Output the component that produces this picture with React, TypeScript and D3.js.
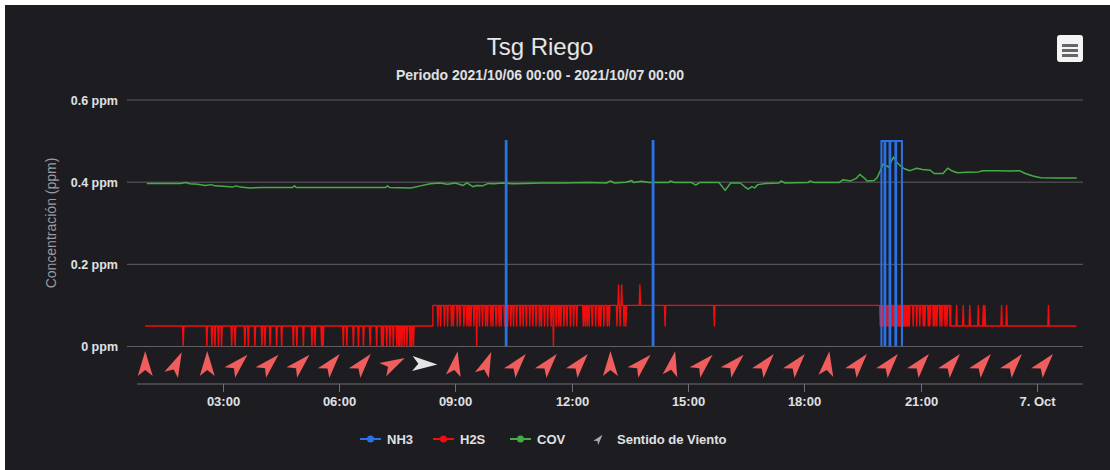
import React, { useEffect, useRef } from 'react';
import * as d3 from 'd3';

const WIDTH = 1110;
const HEIGHT = 470;

// all times are hours since 2021/10/06 00:00
const yTicks = [0, 0.2, 0.4, 0.6];
const xTickHours = [3, 6, 9, 12, 15, 18, 21, 24];

const covPoints: [number, number][] = [
  [1.04, 0.397], [1.5, 0.397], [1.9, 0.397], [2.05, 0.399], [2.15, 0.396], [2.35, 0.395],
  [2.55, 0.392], [2.7, 0.394], [2.8, 0.391], [3.0, 0.39], [3.25, 0.388], [3.35, 0.391],
  [3.45, 0.388], [3.7, 0.386], [4.0, 0.387], [4.4, 0.387], [4.8, 0.387], [4.85, 0.391],
  [4.9, 0.387], [5.5, 0.387], [6.1, 0.387], [6.7, 0.387], [7.2, 0.387], [7.25, 0.391],
  [7.3, 0.387], [7.85, 0.386], [8.1, 0.391], [8.35, 0.396], [8.6, 0.398], [8.8, 0.395],
  [9.0, 0.398], [9.2, 0.392], [9.3, 0.398], [9.45, 0.389], [9.55, 0.392], [9.7, 0.391],
  [9.85, 0.397], [10.0, 0.396], [10.2, 0.398], [10.5, 0.396], [10.8, 0.397], [11.2, 0.398],
  [11.8, 0.398], [12.4, 0.399], [12.9, 0.398], [13.0, 0.403], [13.1, 0.398], [13.4, 0.4],
  [13.55, 0.404], [13.6, 0.399], [13.8, 0.402], [14.0, 0.399], [14.5, 0.399], [14.55, 0.403],
  [14.65, 0.399], [15.1, 0.399], [15.2, 0.393], [15.3, 0.399], [15.8, 0.399], [15.96, 0.38],
  [16.1, 0.398], [16.35, 0.398], [16.45, 0.39], [16.55, 0.383], [16.65, 0.389], [16.72, 0.386],
  [16.8, 0.394], [17.0, 0.397], [17.35, 0.398], [17.4, 0.403], [17.5, 0.398], [18.1, 0.399],
  [18.15, 0.403], [18.25, 0.399], [18.9, 0.399], [19.0, 0.406], [19.2, 0.403], [19.35, 0.41],
  [19.43, 0.419], [19.55, 0.41], [19.62, 0.403], [19.8, 0.404], [19.88, 0.411], [19.95, 0.425],
  [20.03, 0.444], [20.12, 0.44], [20.18, 0.436], [20.25, 0.452], [20.3, 0.461], [20.39, 0.448],
  [20.5, 0.438], [20.6, 0.432], [20.73, 0.428], [20.9, 0.434], [21.05, 0.431], [21.25, 0.429],
  [21.35, 0.421], [21.58, 0.421], [21.7, 0.434], [21.82, 0.427], [21.95, 0.423], [22.2, 0.424],
  [22.5, 0.425], [22.6, 0.428], [23.0, 0.428], [23.3, 0.427], [23.55, 0.428], [23.7, 0.421],
  [23.9, 0.415], [24.1, 0.411], [24.5, 0.41], [25.03, 0.41],
];

// H2S: base level segments [start, level], plus short excursions
const h2sLevels: [number, number][] = [[1.0, 0.05], [8.42, 0.1], [21.78, 0.05]];
const h2sEnd = 25.02;
// 0.05 -> 0
const h2sDipsEarly = [
  1.98, 2.59, 2.72, 2.8, 2.89, 2.97, 3.23, 3.32, 3.57, 3.66, 3.83, 4.01, 4.09, 4.22, 4.39,
  4.52, 4.82, 4.91, 5.08, 5.3, 5.38, 5.55, 5.59, 6.11, 6.2, 6.37, 6.5, 6.63, 6.8, 6.97,
  7.1, 7.14, 7.23, 7.31, 7.4, 7.49, 7.54, 7.57, 7.62, 7.68, 7.75, 7.83, 7.87, 7.92,
];
// 0.1 -> 0.05
const h2sDense1 = [
  8.55, 8.62, 8.72, 8.8, 8.9, 8.95, 9.05, 9.12, 9.22, 9.3, 9.35, 9.4, 9.48, 9.62, 9.7,
  9.78, 9.83, 9.92, 9.97, 10.05, 10.13, 10.18, 10.27, 10.35, 10.43, 10.5, 10.58, 10.67,
  10.75, 10.83, 10.92, 11.0, 11.08, 11.17, 11.22, 11.3, 11.38, 11.47, 11.6, 11.67, 11.72,
  11.8, 11.88, 11.97, 12.05, 12.13, 12.3, 12.35, 12.4, 12.45, 12.53, 12.62, 12.7, 12.75,
  12.83, 12.92, 12.97, 13.17, 13.25, 13.35, 13.4,
];
// 0.1 -> 0
const h2sToZero = [9.55, 11.53];
// 0.1 -> 0.15
const h2sHigh = [13.21, 13.29, 13.76];
// 0.1 -> 0.05
const h2sMid = [14.41, 15.68];
const h2sDense2 = [
  19.96, 19.99, 20.02, 20.05, 20.08, 20.11, 20.13, 20.16, 20.19, 20.22, 20.25, 20.28, 20.3,
  20.33, 20.36, 20.39, 20.42, 20.45, 20.47, 20.5, 20.53, 20.56, 20.59, 20.62, 20.65, 20.68,
  20.71, 20.81, 20.9, 20.98, 21.07, 21.11, 21.2, 21.24, 21.33, 21.37, 21.42, 21.5, 21.55,
  21.63, 21.68, 21.76,
];
// 0.05 -> 0.1
const h2sLate = [21.93, 22.1, 22.27, 22.49, 22.62, 22.66, 23.09, 23.22, 24.3];

// NH3 at 0.5 ppm during these intervals, 0 otherwise
const nh3Pulses: [number, number][] = [
  [10.3, 10.32], [14.09, 14.11], [19.99, 20.07], [20.09, 20.2], [20.22, 20.35], [20.37, 20.52],
];

const windHours = [
  1.0, 1.8, 2.6, 3.4, 4.2, 5.0, 5.8, 6.6, 7.4, 8.2, 9.0, 9.8, 10.6, 11.4, 12.2,
  13.0, 13.8, 14.6, 15.4, 16.2, 17.0, 17.8, 18.6, 19.4, 20.2, 21.0, 21.8, 22.6, 23.4, 24.2,
];
const windDirs = [
  0, 25, 0, 45, 45, 45, 40, 40, 62, 92, 10, 22, 40, 40, 40,
  0, 45, 12, 45, 45, 40, 40, 8, 40, 40, 40, 40, 40, 40, 40,
];
const windCalm = [9];

const COLORS = { nh3: '#2a72e6', h2s: '#f20d0d', cov: '#45ad45', wind: '#ef5d5d' };

const start = new Date(2021, 9, 6, 0, 0, 0).getTime();
const at = (h: number) => new Date(start + h * 3600e3);

const ARROW = 'M0,-13 L7.5,12 L0,6 L-7.5,12 Z';

export default function App() {
  const svgRef = useRef<SVGSVGElement>(null);

  useEffect(() => {
    document.body.style.margin = '0';
    const svg = d3.select(svgRef.current);
    svg.selectAll('*').remove();

    const left = 127, right = 1083, top = 100, bottom = 346.5;
    const x = d3.scaleTime().domain([at(0.53), at(25.19)]).range([left, right]);
    const y = d3.scaleLinear().domain([0, 0.6]).range([bottom, top]);
    const font = '"Liberation Sans", Arial, sans-serif';

    svg.append('rect').attr('width', WIDTH).attr('height', HEIGHT).attr('fill', '#fff');
    svg.append('rect').attr('x', 5).attr('y', 5).attr('width', WIDTH - 5).attr('height', HEIGHT - 5).attr('fill', '#1d1d21');

    // titles
    svg.append('text').attr('x', 540).attr('y', 55).attr('text-anchor', 'middle')
      .style('font-family', font).style('font-size', '24px').attr('fill', '#e6e6e8').text('Tsg Riego');
    svg.append('text').attr('x', 540).attr('y', 80).attr('text-anchor', 'middle')
      .style('font-family', font).style('font-size', '14px').style('font-weight', 'bold')
      .attr('fill', '#e0e0e3').text('Periodo 2021/10/06 00:00 - 2021/10/07 00:00');

    // menu button
    svg.append('rect').attr('x', 1057).attr('y', 35).attr('width', 26).attr('height', 27).attr('rx', 3).attr('fill', '#f4f4f4');
    [44, 49, 54].forEach((yy) => {
      svg.append('rect').attr('x', 1062).attr('y', yy).attr('width', 16).attr('height', 3).attr('fill', '#666');
    });

    // grid + y labels
    const grid = svg.append('g');
    yTicks.forEach((v) => {
      grid.append('line').attr('x1', left).attr('x2', right).attr('y1', y(v)).attr('y2', y(v))
        .attr('stroke', '#5e5e63').attr('stroke-width', 1);
      grid.append('text').attr('x', 118).attr('y', y(v) + 4.5).attr('text-anchor', 'end')
        .style('font-family', font).style('font-size', '12.5px').style('font-weight', 'bold')
        .attr('fill', '#e0e0e3').text(`${v} ppm`);
    });
    svg.append('text')
      .attr('transform', `translate(56,223) rotate(-90)`)
      .attr('text-anchor', 'middle')
      .style('font-family', font).style('font-size', '14px')
      .attr('fill', '#9c9ca0').text('Concentración (ppm)');

    // clip
    svg.append('clipPath').attr('id', 'plot-clip').append('rect')
      .attr('x', left).attr('y', top - 5).attr('width', right - left).attr('height', bottom - top + 5);
    const plot = svg.append('g').attr('clip-path', 'url(#plot-clip)');

    const line = d3.line<[number, number]>().x((d) => x(at(d[0]))).y((d) => y(d[1]));

    // H2S
    const step = 1 / 60;
    const excursions: [number, number][] = [
      ...h2sDipsEarly.map((h) => [h, 0] as [number, number]),
      ...h2sDense1.map((h) => [h, 0.05] as [number, number]),
      ...h2sToZero.map((h) => [h, 0] as [number, number]),
      ...h2sHigh.map((h) => [h, 0.15] as [number, number]),
      ...h2sMid.map((h) => [h, 0.05] as [number, number]),
      ...h2sDense2.map((h) => [h, 0.05] as [number, number]),
      ...h2sLate.map((h) => [h, 0.1] as [number, number]),
    ];
    const baseAt = (h: number) => {
      let b = h2sLevels[0][1];
      h2sLevels.forEach(([s, v]) => { if (h >= s) b = v; });
      return b;
    };
    const h2sPts: [number, number][] = [];
    h2sLevels.forEach(([s, v], i) => {
      if (i > 0) h2sPts.push([s, h2sLevels[i - 1][1]]);
      h2sPts.push([s, v]);
    });
    excursions.forEach(([h, v]) => {
      const b = baseAt(h);
      h2sPts.push([h - step, b], [h, v], [h + step, b]);
    });
    h2sPts.push([h2sEnd, baseAt(h2sEnd)]);
    h2sPts.sort((a, b) => a[0] - b[0]);

    plot.append('path').attr('d', line(h2sPts)).attr('fill', 'none')
      .attr('stroke', COLORS.h2s).attr('stroke-width', 1.4).attr('stroke-linejoin', 'round');

    // COV
    plot.append('path').attr('d', line(covPoints)).attr('fill', 'none')
      .attr('stroke', COLORS.cov).attr('stroke-width', 1.5).attr('stroke-linejoin', 'round');

    // NH3
    nh3Pulses.forEach(([s, e]) => {
      const pts: [number, number][] = [[s, 0], [s, 0.5], [e, 0.5], [e, 0]];
      plot.append('path').attr('d', line(pts)).attr('fill', 'none')
        .attr('stroke', COLORS.nh3).attr('stroke-width', 2);
    });

    // wind arrows
    const wind = svg.append('g');
    windHours.forEach((h, i) => {
      wind.append('path').attr('d', ARROW)
        .attr('transform', `translate(${x(at(h))},364) rotate(${windDirs[i]})`)
        .attr('fill', windCalm.includes(i) ? '#e4e4e6' : COLORS.wind);
    });

    // x axis
    const axisY = 384;
    svg.append('line').attr('x1', 137).attr('x2', right).attr('y1', axisY).attr('y2', axisY)
      .attr('stroke', '#6e6e73').attr('stroke-width', 1);
    const fmt = (d: Date) => (d.getHours() === 0 ? d3.timeFormat('%-d. %b')(d) : d3.timeFormat('%H:%M')(d));
    xTickHours.forEach((h) => {
      const xx = Math.round(x(at(h))) + 0.5;
      svg.append('line').attr('x1', xx).attr('x2', xx).attr('y1', axisY).attr('y2', axisY + 8)
        .attr('stroke', '#6e6e73');
      svg.append('text').attr('x', xx).attr('y', 406).attr('text-anchor', 'middle')
        .style('font-family', font).style('font-size', '13px').style('font-weight', 'bold')
        .attr('fill', '#e0e0e3').text(fmt(at(h)));
    });

    // legend
    const legend = svg.append('g').style('font-family', font).style('font-size', '13px').style('font-weight', 'bold');
    const items = [
      { name: 'NH3', color: COLORS.nh3, x: 360 },
      { name: 'H2S', color: COLORS.h2s, x: 433 },
      { name: 'COV', color: COLORS.cov, x: 510 },
    ];
    items.forEach((it) => {
      legend.append('line').attr('x1', it.x).attr('x2', it.x + 21).attr('y1', 439).attr('y2', 439)
        .attr('stroke', it.color).attr('stroke-width', 2);
      legend.append('circle').attr('cx', it.x + 10.5).attr('cy', 439).attr('r', 3.5).attr('fill', it.color);
      legend.append('text').attr('x', it.x + 27).attr('y', 443.5).attr('fill', '#e0e0e3').text(it.name);
    });
    legend.append('path').attr('d', ARROW)
      .attr('transform', 'translate(599,439) rotate(40) scale(0.42)').attr('fill', '#a8a8ac');
    legend.append('text').attr('x', 617).attr('y', 443.5).attr('fill', '#e0e0e3').text('Sentido de Viento');
  }, []);

  return <svg ref={svgRef} width={WIDTH} height={HEIGHT} style={{ display: 'block' }} />;
}
